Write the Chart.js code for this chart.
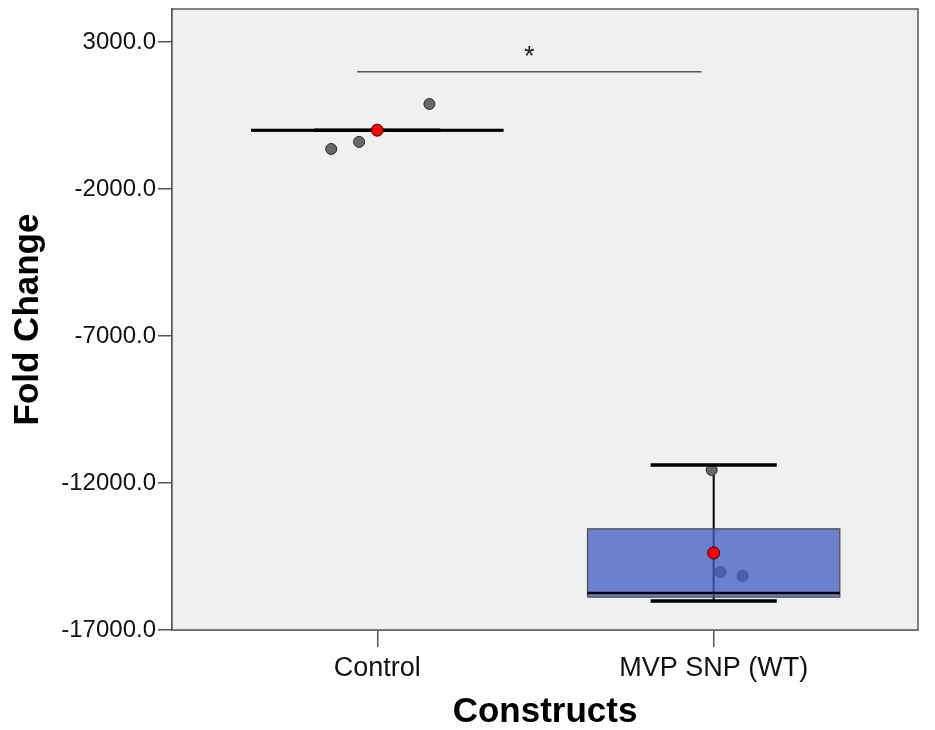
<!DOCTYPE html>
<html>
<head>
<meta charset="utf-8">
<script src="https://cdn.jsdelivr.net/npm/chart.js@4.4.1/dist/chart.umd.min.js"></script>
<style>
  html, body { margin: 0; padding: 0; background: #ffffff; }
  #wrap { width: 935px; height: 730px; }
</style>
</head>
<body>
<div id="wrap"><canvas id="c" width="935" height="730"></canvas></div>
<script>
// ---- data ----
const categories   = ['Control', 'MVP SNP (WT)'];
const boxQ1        = [0, -15880];
const boxMedian    = [0, -15740];
const boxQ3        = [0, -13560];
const whiskerLow   = [0, -16010];
const whiskerHigh  = [0, -11390];
const groupMeans   = [0, -14380];
const controlPoints = [-640, -400, 890];
const controlJitter = [-0.137, -0.054, 0.155];
const mvpPoints     = [-11560, -15025, -15160];
const mvpJitter     = [-0.006, 0.020, 0.086];
const yTicks        = [-17000, -12000, -7000, -2000, 3000];
const sigFrom = -0.06, sigTo = 0.964, sigValue = 1990, sigLabel = '*', sigLabelValue = 2660;

const BOX_HALF = 0.375, CAP_HALF = 0.1875;

const datasets = [];
const groupPoints = [controlPoints, mvpPoints];
const groupJitter = [controlJitter, mvpJitter];

categories.forEach((cat, i) => {
  datasets.push({
    type: 'line', label: cat + ' whisker', order: 10,
    data: [{x: i, y: whiskerLow[i]}, {x: i, y: whiskerHigh[i]}],
    borderColor: '#000', borderWidth: 2, pointRadius: 0, fill: false
  });
  datasets.push({
    type: 'scatter', label: cat + ' points', order: 9,
    data: groupPoints[i].map((v, k) => ({x: i + groupJitter[i][k], y: v})),
    backgroundColor: '#686868', borderColor: '#2a2a2a', borderWidth: 1, pointRadius: 5.5
  });
  datasets.push({
    type: 'line', label: cat + ' box', order: 8,
    data: [
      {x: i - BOX_HALF, y: boxQ1[i]}, {x: i + BOX_HALF, y: boxQ1[i]},
      {x: i + BOX_HALF, y: boxQ3[i]}, {x: i - BOX_HALF, y: boxQ3[i]},
      {x: i - BOX_HALF, y: boxQ1[i]}
    ],
    borderColor: i === 0 ? '#000' : '#4a4a4a', borderWidth: i === 0 ? 3 : 1.2,
    backgroundColor: 'rgba(68,94,194,0.77)', fill: i === 0 ? false : 'shape',
    pointRadius: 0, tension: 0
  });
  datasets.push({
    type: 'line', label: cat + ' median', order: 7,
    data: [{x: i - BOX_HALF, y: boxMedian[i]}, {x: i + BOX_HALF, y: boxMedian[i]}],
    borderColor: '#000', borderWidth: 2.5, pointRadius: 0, fill: false
  });
  datasets.push({
    type: 'line', label: cat + ' caps', order: 6,
    data: [
      {x: i - CAP_HALF, y: whiskerHigh[i]}, {x: i + CAP_HALF, y: whiskerHigh[i]},
      {x: i, y: null},
      {x: i - CAP_HALF, y: whiskerLow[i]}, {x: i + CAP_HALF, y: whiskerLow[i]}
    ],
    borderColor: '#000', borderWidth: 3.5, pointRadius: 0, fill: false, spanGaps: false
  });
});

datasets.push({
  type: 'scatter', label: 'means', order: 1,
  data: groupMeans.map((v, i) => ({x: i, y: v})),
  backgroundColor: '#ff0000', borderColor: '#3a0000', borderWidth: 1, pointRadius: 6
});
datasets.push({
  type: 'line', label: 'sig', order: 0,
  data: [{x: sigFrom, y: sigValue}, {x: sigTo, y: sigValue}],
  borderColor: '#555', borderWidth: 1.5, pointRadius: 0, fill: false
});

const framePlugin = {
  id: 'frame',
  beforeDatasetsDraw(chart) {
    const {ctx, chartArea: a} = chart;
    ctx.save();
    ctx.fillStyle = '#f0f0f0';
    ctx.fillRect(a.left, a.top, a.right - a.left, a.bottom - a.top);
    ctx.restore();
  },
  afterDatasetsDraw(chart) {
    const {ctx, chartArea: a, scales} = chart;
    ctx.save();
    ctx.strokeStyle = '#5a5a5a';
    ctx.lineWidth = 1.5;
    ctx.strokeRect(a.left, a.top, a.right - a.left, a.bottom - a.top);
    ctx.fillStyle = '#222';
    ctx.font = '27px "Liberation Sans", Arial, sans-serif';
    ctx.textAlign = 'center';
    ctx.textBaseline = 'middle';
    ctx.fillText(sigLabel, scales.x.getPixelForValue((sigFrom + sigTo) / 2), scales.y.getPixelForValue(sigLabelValue) + 6);
    ctx.restore();
  }
};

const FONT = '"Liberation Sans", Arial, sans-serif';

new Chart(document.getElementById('c'), {
  type: 'scatter',
  data: { datasets },
  plugins: [framePlugin],
  options: {
    responsive: false,
    animation: false,
    layout: { padding: { top: 9, right: 17, left: 0, bottom: 0 } },
    plugins: { legend: { display: false }, tooltip: { enabled: false } },
    scales: {
      x: {
        type: 'linear', min: -0.6102, max: 1.6074,
        afterBuildTicks: s => { s.ticks = categories.map((c, i) => ({ value: i })); },
        afterFit: s => { s.height = 100; s.paddingLeft = 0; s.paddingRight = 0; },
        ticks: {
          autoSkip: false, maxRotation: 0, padding: 5, color: '#111',
          font: { family: FONT, size: 27 },
          callback: v => categories[v]
        },
        grid: { drawOnChartArea: false, drawTicks: true, tickLength: 17, color: '#555', lineWidth: 1.5 },
        border: { display: true, color: '#5a5a5a', width: 1.5 },
        title: {
          display: true, text: 'Constructs', color: '#000',
          font: { family: FONT, size: 35, weight: 'bold', lineHeight: 1.0 },
          padding: { top: 0, bottom: 0 }
        }
      },
      y: {
        type: 'linear', min: -17000, max: 4120,
        afterBuildTicks: s => { s.ticks = yTicks.map(v => ({ value: v })); },
        afterFit: s => { s.width = 172; s.paddingTop = 0; s.paddingBottom = 0; },
        ticks: {
          padding: 2, color: '#111',
          font: { family: FONT, size: 24 },
          callback: v => Number(v).toFixed(1)
        },
        grid: { drawOnChartArea: false, drawTicks: true, tickLength: 14, color: '#555', lineWidth: 1.5 },
        border: { display: true, color: '#5a5a5a', width: 1.5 },
        title: {
          display: true, text: 'Fold Change', color: '#000',
          font: { family: FONT, size: 35, weight: 'bold' },
          padding: { top: 7, bottom: 0 }
        }
      }
    }
  }
});
</script>
</body>
</html>
